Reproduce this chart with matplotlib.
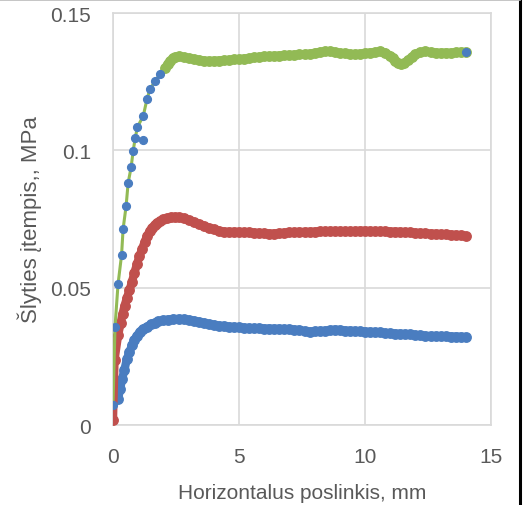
import matplotlib
matplotlib.use("Agg")
import matplotlib.pyplot as plt
from matplotlib.lines import Line2D
import numpy as np

plt.rcParams['font.family'] = ['Liberation Sans', 'DejaVu Sans']

# ---- data ----
blue_x = [0.2, 0.28, 0.36, 0.45, 0.55, 0.65, 0.75, 0.85, 0.95, 1.07, 1.2, 1.35, 1.5, 1.65, 1.8,
          2.0, 2.2, 2.4, 2.6, 2.8, 3.0, 3.2, 3.4, 3.6, 3.8, 4.0, 4.2, 4.4, 4.6, 4.8, 5.0,
          5.2, 5.4, 5.6, 5.8, 6.0, 6.2, 6.4, 6.6, 6.8, 7.0, 7.2, 7.4, 7.6, 7.8, 8.0, 8.2,
          8.4, 8.6, 8.8, 9.0, 9.2, 9.4, 9.6, 9.8, 10.0, 10.2, 10.4, 10.6, 10.8, 11.0, 11.2,
          11.4, 11.6, 11.8, 12.0, 12.2, 12.4, 12.6, 12.8, 13.0, 13.2, 13.4, 13.6, 13.8, 14.0]
blue_y = [0.0095, 0.013, 0.0167, 0.020, 0.024, 0.0265, 0.029, 0.031, 0.0325, 0.034, 0.0350,
          0.0358, 0.0366, 0.0372, 0.0377, 0.0381, 0.0384, 0.0386, 0.0386, 0.0385, 0.0383,
          0.0380, 0.0376, 0.0372, 0.0368, 0.0365, 0.0362, 0.0360, 0.0358, 0.0357, 0.0355,
          0.0354, 0.0353, 0.0352, 0.0352, 0.0351, 0.0351, 0.0350, 0.0350, 0.0349, 0.0348,
          0.0347, 0.0346, 0.0342, 0.0340, 0.0341, 0.0342, 0.0343, 0.0345, 0.0347, 0.0346,
          0.0344, 0.0343, 0.0342, 0.0341, 0.0340, 0.0339, 0.0338, 0.0337, 0.0335, 0.0334,
          0.0333, 0.0332, 0.0331, 0.0330, 0.0328, 0.0326, 0.0325, 0.0324, 0.0324, 0.0323,
          0.0323, 0.0322, 0.0322, 0.0321, 0.0320]

red_x = [0.0, 0.06, 0.2, 0.3, 0.38, 0.46, 0.55, 0.65, 0.75, 0.85, 0.95, 1.05, 1.15, 1.25,
         1.35, 1.45, 1.55, 1.65, 1.75, 1.87, 2.0, 2.15, 2.3, 2.45, 2.6, 2.8, 3.0, 3.2, 3.4,
         3.6, 3.8, 4.0, 4.2, 4.4, 4.6, 4.8, 5.0, 5.2, 5.4, 5.6, 5.8, 6.0, 6.2, 6.4, 6.6, 6.8,
         7.0, 7.2, 7.4, 7.6, 7.8, 8.0, 8.2, 8.4, 8.6, 8.8, 9.0, 9.2, 9.4, 9.6, 9.8, 10.0,
         10.2, 10.4, 10.6, 10.8, 11.0, 11.2, 11.4, 11.6, 11.8, 12.0, 12.2, 12.4, 12.6, 12.8,
         13.0, 13.2, 13.4, 13.6, 13.8, 14.0]
red_y = [0.002, 0.0237, 0.0326, 0.037, 0.0405, 0.0435, 0.0462, 0.049, 0.052, 0.0555, 0.0585,
         0.0615, 0.064, 0.0665, 0.0688, 0.0705, 0.0718, 0.0728, 0.0737, 0.0743, 0.0749,
         0.0753, 0.0756, 0.0757, 0.0756, 0.0752, 0.0746, 0.0739, 0.0732, 0.0725, 0.0718,
         0.0712, 0.0707, 0.0704, 0.0703, 0.0703, 0.0703, 0.0702, 0.0701, 0.0700, 0.0699,
         0.0698, 0.0697, 0.0697, 0.0698, 0.0700, 0.0701, 0.0702, 0.0703, 0.0703, 0.0703,
         0.0704, 0.0705, 0.0705, 0.0706, 0.0706, 0.0706, 0.0705, 0.0705, 0.0706, 0.0707,
         0.0707, 0.0706, 0.0705, 0.0705, 0.0705, 0.0704, 0.0704, 0.0703, 0.0702, 0.0701,
         0.0700, 0.0699, 0.0698, 0.0697, 0.0696, 0.0695, 0.0694, 0.0693, 0.0692, 0.0690,
         0.0688]

green_x = [0.0, 0.08, 0.2, 0.34, 0.4, 0.52, 0.6, 0.72, 0.8, 0.88, 0.97, 1.2, 1.35, 1.47,
           1.67, 1.87, 2.07, 2.17, 2.27, 2.37, 2.47, 2.6, 2.8, 3.0, 3.2, 3.4, 3.6, 3.8, 4.0,
           4.2, 4.4, 4.6, 4.8, 5.0, 5.2, 5.4, 5.6, 5.8, 6.0, 6.2, 6.4, 6.6, 6.8, 7.0, 7.2,
           7.4, 7.6, 7.8, 8.0, 8.2, 8.4, 8.6, 8.8, 9.0, 9.2, 9.4, 9.6, 9.8, 10.0, 10.2, 10.4,
           10.6, 10.8, 11.0, 11.1, 11.2, 11.3, 11.42, 11.55, 11.7, 11.85, 12.0, 12.2, 12.4,
           12.6, 12.8, 13.0, 13.2, 13.4, 13.6, 13.8, 14.0]
green_y = [0.0073, 0.0357, 0.0513, 0.0619, 0.0713, 0.0797, 0.0881, 0.0939, 0.0998, 0.1044,
           0.1085, 0.1125, 0.1187, 0.1223, 0.1252, 0.1278, 0.1300, 0.1315, 0.1326, 0.1335,
           0.1340, 0.1342, 0.1340, 0.1336, 0.1333, 0.1330, 0.1327, 0.1325, 0.1326, 0.1327,
           0.1328, 0.1329, 0.1331, 0.1332, 0.1334, 0.1336, 0.1338, 0.1340, 0.1342, 0.1343,
           0.1344, 0.1345, 0.1346, 0.1347, 0.1348, 0.1349, 0.1350, 0.1352, 0.1355, 0.1358,
           0.1360, 0.1361, 0.1358, 0.1355, 0.1353, 0.1351, 0.1350, 0.1352, 0.1354, 0.1356,
           0.1358, 0.1360, 0.1356, 0.1345, 0.1335, 0.1325, 0.1318, 0.1314, 0.1318, 0.1328,
           0.1340, 0.1350, 0.1357, 0.1360, 0.1358, 0.1356, 0.1355, 0.1356, 0.1355, 0.1357,
           0.1358, 0.1358]
# stray point beneath the green rise
green_extra_x = [1.18]
green_extra_y = [0.1038]

x_ticks = [0, 5, 10, 15]
y_ticks = [0, 0.05, 0.1, 0.15]
y_tick_labels = ["0", "0.05", "0.1", "0.15"]
x_label = "Horizontalus poslinkis, mm"
y_label = "Šlyties įtempis,, MPa"

BLUE = "#4A7DC0"
RED = "#C0504D"
GREEN = "#92BA55"
TXT = "#595959"
GRID = "#D9D9D9"

fig = plt.figure(figsize=(5.30, 5.06), dpi=100)
ax = fig.add_axes([113/530, 1 - 426/506, (491-113)/530, (426-14)/506])

band = 6.0   # thick band made of overlapping markers
ms = 6.8
ax.plot(blue_x, blue_y, color=BLUE, lw=band, marker='o', ms=ms, mec=BLUE, mfc=BLUE,
        solid_capstyle='round', zorder=3)
ax.plot(red_x, red_y, color=RED, lw=band, marker='o', ms=ms, mec=RED, mfc=RED,
        solid_capstyle='round', zorder=3)

gx = np.array(green_x); gy = np.array(green_y)
rise = gx < 2.0
# thin line through the rise, thick marker band on the plateau
ax.plot(gx, gy, color=GREEN, lw=2.2, zorder=4)
ax.plot(gx[~rise], gy[~rise], color=GREEN, lw=band, marker='o', ms=ms, mec=GREEN, mfc=GREEN,
        solid_capstyle='round', zorder=4)
sel = rise | (gx >= 14.0)
ax.plot(gx[sel], gy[sel], ls='none', marker='o', ms=5.6, mec=BLUE, mfc=BLUE, zorder=5)
ax.plot(green_extra_x, green_extra_y, ls='none', marker='o', ms=5.6, mec=BLUE, mfc=BLUE, zorder=5)

ax.set_xlim(0, 15)
ax.set_ylim(0, 0.15)
ax.set_xticks(x_ticks)
ax.set_yticks(y_ticks)
ax.set_yticklabels(y_tick_labels)
ax.grid(True, color=GRID, lw=1.2)
ax.set_axisbelow(True)
for s in ax.spines.values():
    s.set_color(GRID)
    s.set_linewidth(1.2)
ax.tick_params(length=0, labelsize=15, labelcolor=TXT)
ax.tick_params(axis='y', pad=16)
ax.tick_params(axis='x', pad=16)
ax.set_xlabel(x_label, fontsize=15, color=TXT, labelpad=12)
ax.set_ylabel(y_label, fontsize=16, color=TXT, labelpad=6)

fig.add_artist(Line2D([520/530, 520/530], [0, 1], color='black', lw=2.2, transform=fig.transFigure))
fig.add_artist(Line2D([0, 520/530], [1 - 1/506, 1 - 1/506], color='#BBBBBB', lw=1.2, transform=fig.transFigure))

fig.savefig("out.png", dpi=100)
